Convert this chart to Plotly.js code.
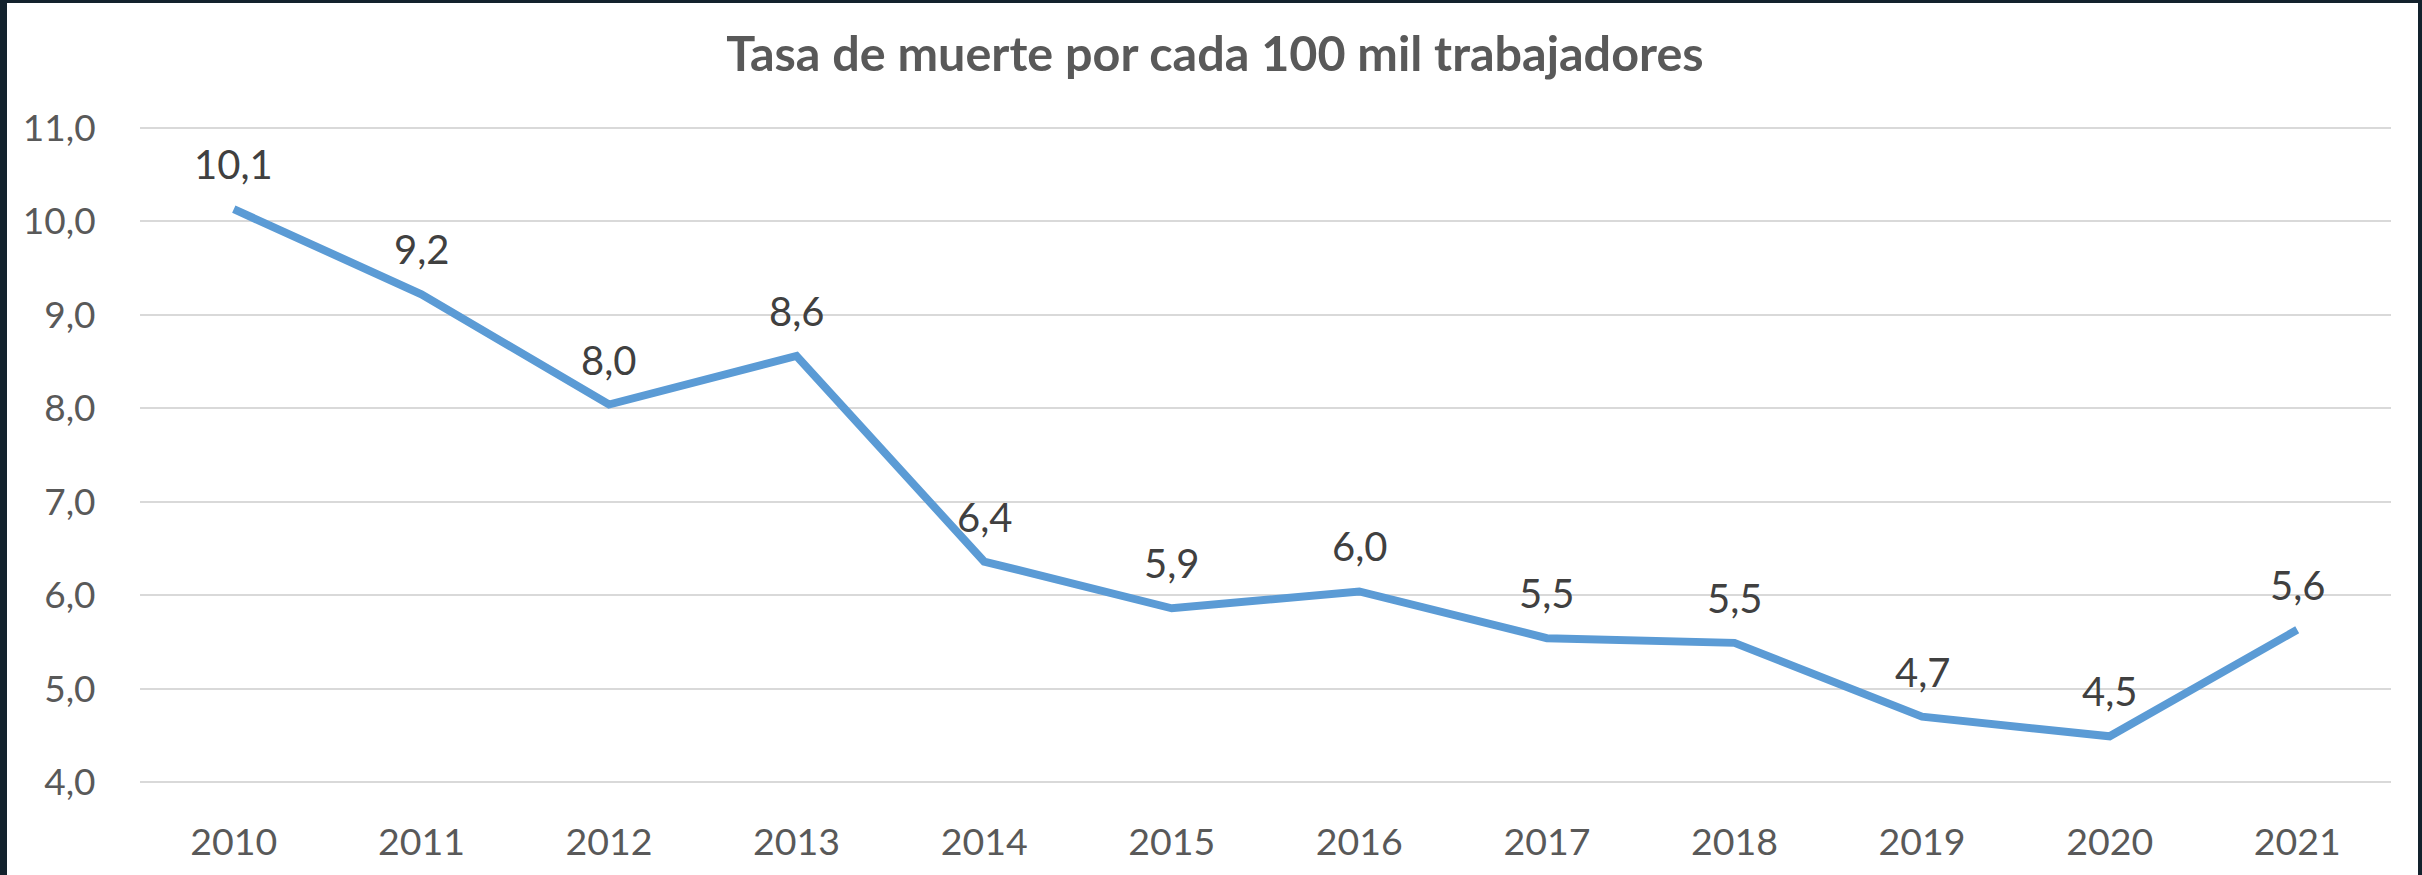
<!DOCTYPE html>
<html>
<head>
<meta charset="utf-8">
<script src="https://cdn.plot.ly/plotly-3.0.1.min.js"></script>
<style>
  html, body { margin: 0; padding: 0; background: #13222d; width: 2422px; height: 875px; overflow: hidden; }
  #chart { position: absolute; left: 7px; top: 3px; width: 2411px; height: 872px; background: #ffffff; }
</style>
</head>
<body>
<div id="chart"></div>
<script>
const years = ["2010","2011","2012","2013","2014","2015","2016","2017","2018","2019","2020","2021"];
const rates = [10.13, 9.22, 8.04, 8.56, 6.36, 5.86, 6.04, 5.54, 5.49, 4.70, 4.49, 5.63];
const yTicks = [4, 5, 6, 7, 8, 9, 10, 11];
const titleText = "Tasa de muerte por cada 100 mil trabajadores";

const FONT = "Lato, 'Open Sans', sans-serif";

function fmt(v) {
  return v.toFixed(1).replace(".", ",");
}

const trace = {
  x: years,
  y: rates,
  type: "scatter",
  mode: "lines",
  line: { color: "#5b9bd5", width: 8, shape: "linear" },
  hoverinfo: "skip"
};

// category axes place annotations by category index
const annotations = years.map((yr, i) => ({
  x: i,
  y: rates[i],
  xref: "x",
  yref: "y",
  text: fmt(rates[i]),
  showarrow: false,
  yshift: 45,
  xanchor: "center",
  yanchor: "middle",
  font: { family: FONT, size: 40, color: "#404040" }
}));

const layout = {
  width: 2411,
  height: 872,
  paper_bgcolor: "#ffffff",
  plot_bgcolor: "#ffffff",
  separators: ",.",
  showlegend: false,
  margin: { l: 133, r: 27, t: 123, b: 91 },
  title: {
    text: "<b>" + titleText + "</b>",
    xref: "container",
    yref: "container",
    x: 0.501,
    y: 0.941,
    xanchor: "center",
    yanchor: "middle",
    font: { family: FONT, size: 48.5, color: "#595959" }
  },
  xaxis: {
    type: "category",
    range: [-0.5, 11.5],
    showgrid: false,
    zeroline: false,
    showline: false,
    ticks: "outside",
    ticklen: 25,
    tickcolor: "rgba(0,0,0,0)",
    tickfont: { family: FONT, size: 37.5, color: "#595959" }
  },
  yaxis: {
    range: [3.98, 11.02],
    tickvals: yTicks,
    tickformat: ".1f",
    showgrid: true,
    gridcolor: "#d9d9d9",
    gridwidth: 2,
    zeroline: false,
    showline: false,
    ticks: "outside",
    ticklen: 36,
    tickcolor: "rgba(0,0,0,0)",
    tickfont: { family: FONT, size: 37, color: "#595959" }
  },
  annotations: annotations
};

Plotly.newPlot("chart", [trace], layout, { staticPlot: true, displayModeBar: false });
</script>
</body>
</html>
